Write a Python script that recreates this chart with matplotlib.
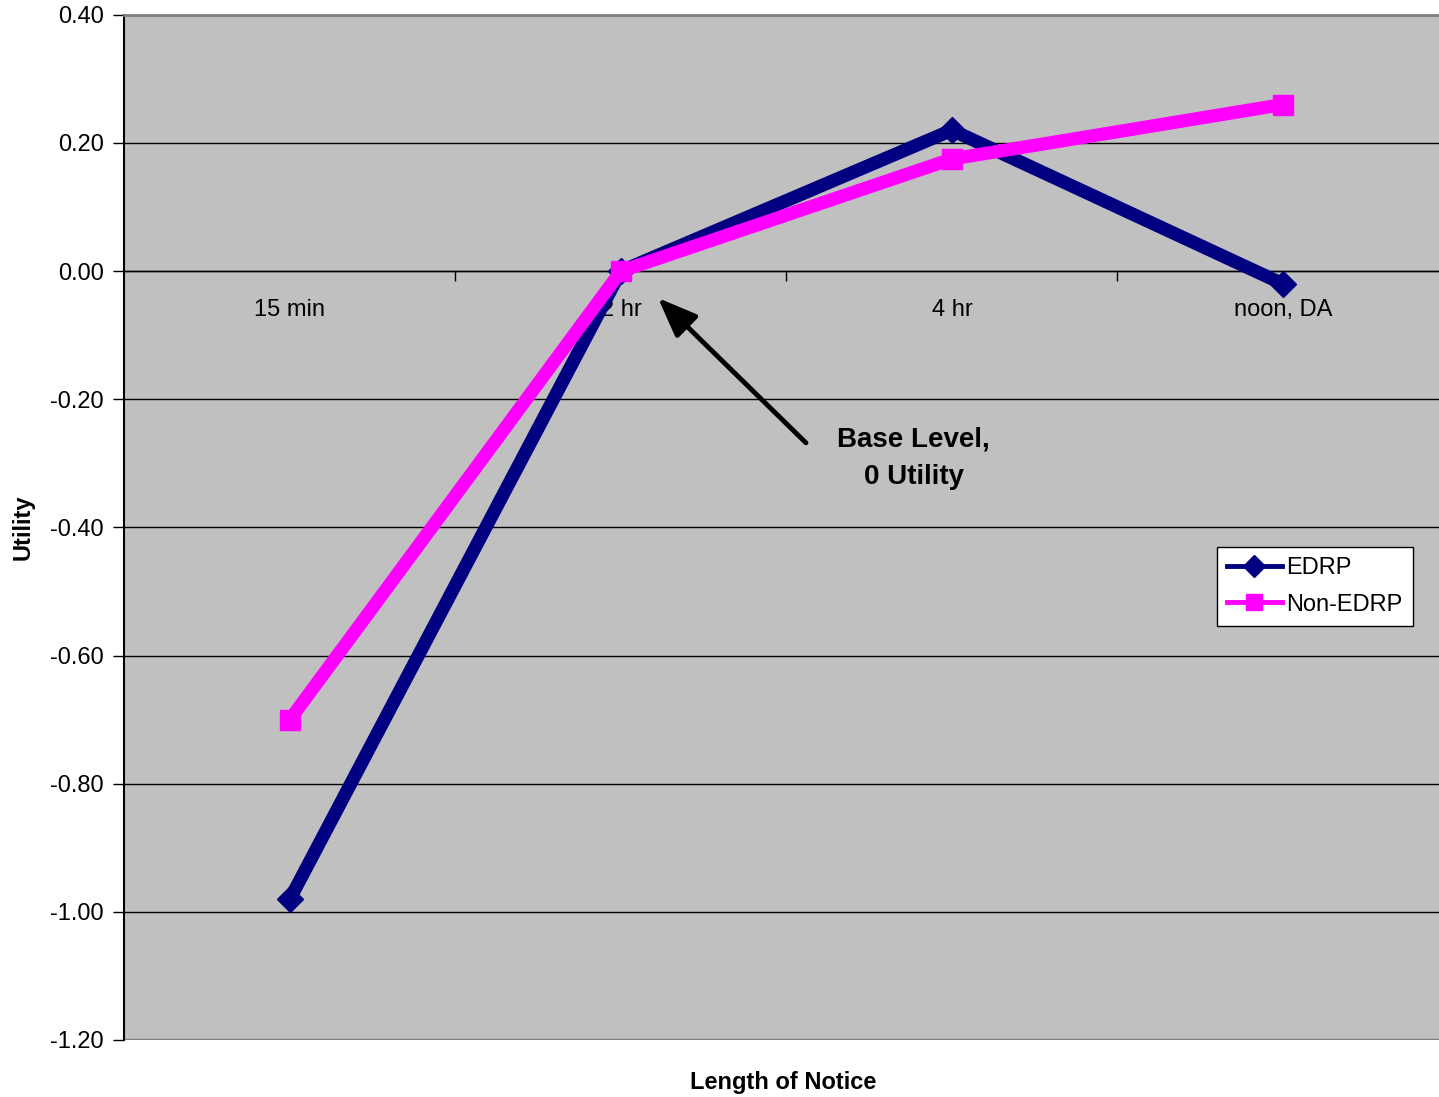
import matplotlib
matplotlib.use("Agg")
import matplotlib.pyplot as plt
from matplotlib.ticker import FixedLocator, FormatStrFormatter

plt.rcParams['font.family'] = ['Liberation Sans', 'DejaVu Sans']

# Utility by length of notice
categories = ["15 min", "2 hr", "4 hr", "noon, DA"]
edrp = [-0.98, 0.00, 0.22, -0.02]
non_edrp = [-0.70, 0.00, 0.175, 0.26]
y_ticks = [-1.20, -1.00, -0.80, -0.60, -0.40, -0.20, 0.00, 0.20, 0.40]

navy = "#000080"
magenta = "#FF00FF"
plot_bg = "#C0C0C0"

fig = plt.figure(figsize=(14.39, 10.97), dpi=100)
ax = fig.add_axes([0.0865, 0.052, 0.920, 0.9345])
ax.set_facecolor(plot_bg)

x = list(range(len(categories)))
ax.plot(x, edrp, color=navy, lw=9.5, marker='D', markersize=13,
        markerfacecolor=navy, markeredgecolor=navy,
        solid_joinstyle='miter', label="EDRP", zorder=3)
ax.plot(x, non_edrp, color=magenta, lw=9.5, marker='s', markersize=14.5,
        markerfacecolor=magenta, markeredgecolor=magenta,
        solid_joinstyle='miter', label="Non-EDRP", zorder=4)

ax.set_xlim(-0.5, len(categories) - 0.5)
ax.set_ylim(y_ticks[0], y_ticks[-1])

# y axis: two-decimal labels, outward ticks, black gridlines
ax.yaxis.set_major_locator(FixedLocator(y_ticks))
ax.yaxis.set_major_formatter(FormatStrFormatter('%.2f'))
ax.tick_params(axis='y', direction='out', length=8, width=1, colors='black',
               labelsize=17, pad=7)
ax.grid(axis='y', color='black', lw=1, zorder=1)

# x axis runs along zero; ticks between categories, labels under categories
ax.spines['bottom'].set_position(('data', 0))
ax.spines['bottom'].set_color('black')
ax.spines['bottom'].set_linewidth(1)
ax.xaxis.set_major_locator(FixedLocator([i + 0.5 for i in x[:-1]]))
ax.xaxis.set_minor_locator(FixedLocator(x))
ax.set_xticklabels([], minor=False)
ax.set_xticklabels(categories, minor=True)
ax.tick_params(axis='x', which='major', direction='out', length=7, width=1,
               colors='black')
ax.tick_params(axis='x', which='minor', length=0, labelsize=17, pad=20)

ax.spines['left'].set_color('black')
ax.spines['left'].set_linewidth(1.5)
ax.spines['top'].set_color('#808080')
ax.spines['top'].set_linewidth(2)
ax.spines['right'].set_visible(False)
ax.axhline(y_ticks[0], color='#808080', lw=2.5, zorder=2)

ax.set_ylabel("Utility", fontsize=17, fontweight='bold')
ax.yaxis.set_label_coords(-0.068, 0.5)
fig.text(783 / 1439, 1 - 1082 / 1097, "Length of Notice", fontsize=17,
         fontweight='bold', ha='center', va='center')

# annotation pointing at the base level
ax.annotate("", xy=(1.112, -0.042), xytext=(1.559, -0.268),
            arrowprops=dict(arrowstyle='-|>,head_length=2.4,head_width=0.95',
                            color='black', lw=3.5, shrinkA=0, shrinkB=0),
            zorder=5)
ax.text(1.885, -0.292, "Base Level,\n0 Utility", fontsize=20, fontweight='bold',
        ha='center', va='center', linespacing=1.6, zorder=5)

leg = ax.legend(loc='upper left', bbox_to_anchor=(0.825, 0.481), fontsize=17,
                frameon=True, fancybox=False, edgecolor='black',
                facecolor='white', framealpha=1, handlelength=2.3,
                borderpad=0.45, labelspacing=0.6, handletextpad=0.2,
                borderaxespad=0)
leg.get_frame().set_linewidth(1)
for h in leg.legend_handles:
    h.set_linewidth(3.5)
    h.set_markersize(11)

fig.savefig("out.png", dpi=100)
